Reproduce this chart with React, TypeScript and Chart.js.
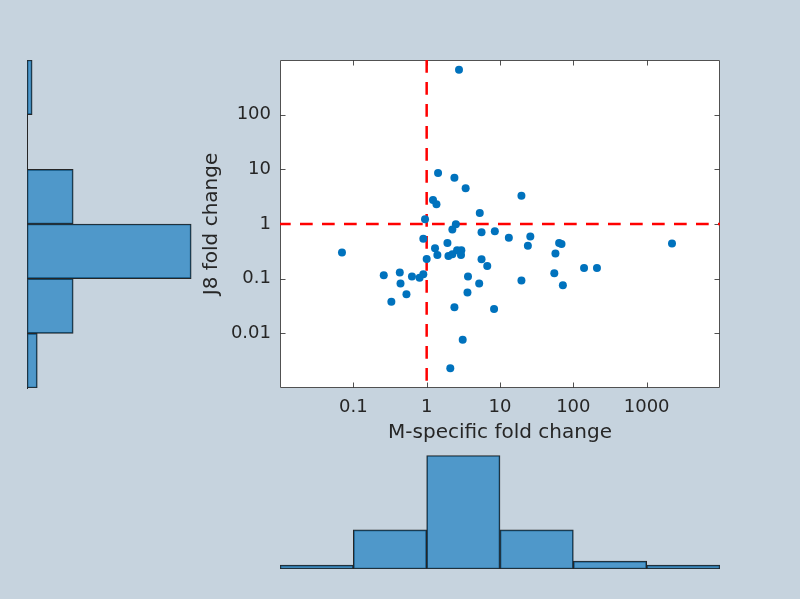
import React, { useEffect, useRef } from 'react';
import { Chart, registerables } from 'chart.js';

Chart.register(...registerables);

const BG = 'rgb(198,211,222)';
const TEXT = '#262626';
const EDGE = '#262626';
const FILL = 'rgba(0,114,189,0.6)';
const DOT = '#0072BD';
const FONT = "'DejaVu Sans', sans-serif";

// Scatter data: M-specific fold change (x) vs J8 fold change (y)
const mFold = [
  2.76, 1.43, 2.39, 3.4, 19.6, 1.22, 1.36, 5.3, 0.95, 2.5,
  2.24, 5.6, 8.5, 13.2, 25.9, 24, 64, 69, 57, 2215,
  0.9, 1.92, 0.07, 1.3, 1.4, 1.98, 2.24, 2.6, 2.97, 2.94,
  1.0, 5.6, 6.7, 0.26, 0.43, 0.63, 0.8, 0.9, 0.44, 0.53,
  0.33, 3.66, 5.2, 3.6, 2.39, 8.3, 19.6, 55, 72, 140,
  210, 3.1, 2.1,
];
const j8Fold = [
  660, 8.6, 7.0, 4.5, 3.3, 2.75, 2.3, 1.59, 1.22, 0.99,
  0.79, 0.71, 0.74, 0.56, 0.59, 0.4, 0.45, 0.43, 0.29, 0.44,
  0.54, 0.45, 0.3, 0.36, 0.27, 0.26, 0.28, 0.33, 0.33, 0.27,
  0.23, 0.226, 0.17, 0.115, 0.13, 0.11, 0.104, 0.12, 0.082, 0.052,
  0.038, 0.11, 0.082, 0.056, 0.03, 0.028, 0.093, 0.125, 0.076, 0.157,
  0.157, 0.0076, 0.0023,
];

const xRange = [0.01, 10000];
const yRange = [0.001, 1000];
const refX = 1;
const refY = 1;

const xTickValues = [0.1, 1, 10, 100, 1000];
const xTickLabels = ['0.1', '1', '10', '100', '1000'];
const yTickValues = [0.01, 0.1, 1, 10, 100];
const yTickLabels = ['0.01', '0.1', '1', '10', '100'];

// Histograms (one bin per decade)
const mBins = ['0.01-0.1', '0.1-1', '1-10', '10-100', '100-1000', '1000-10000'];
const mCounts = [1, 10, 29, 10, 2, 1];
const j8Bins = ['100-1000', '10-100', '1-10', '0.1-1', '0.01-0.1', '0.001-0.01'];
const j8Counts = [1, 0, 9, 32, 9, 2];

const framePlugin = {
  id: 'frameTicks',
  beforeDraw(chart: any) {
    const { ctx, chartArea: a } = chart;
    ctx.save();
    ctx.fillStyle = '#ffffff';
    ctx.fillRect(a.left, a.top, a.right - a.left, a.bottom - a.top);
    ctx.restore();
  },
  beforeDatasetsDraw(chart: any) {
    const { ctx, chartArea: a, scales } = chart;
    const L = Math.round(a.left) + 0.5;
    const R = Math.round(a.right) - 0.5;
    const T = Math.round(a.top) + 0.5;
    const B = Math.round(a.bottom) - 0.5;
    const tl = 5;
    ctx.save();
    ctx.strokeStyle = 'rgba(38,38,38,0.8)';
    ctx.lineWidth = 1;
    ctx.beginPath();
    ctx.rect(L, T, R - L, B - T);
    xTickValues.forEach((v) => {
      const px = Math.round(scales.x.getPixelForValue(v)) + 0.5;
      ctx.moveTo(px, B);
      ctx.lineTo(px, B - tl);
      ctx.moveTo(px, T);
      ctx.lineTo(px, T + tl);
    });
    yTickValues.forEach((v) => {
      const py = Math.round(scales.y.getPixelForValue(v)) + 0.5;
      ctx.moveTo(L, py);
      ctx.lineTo(L + tl, py);
      ctx.moveTo(R, py);
      ctx.lineTo(R - tl, py);
    });
    ctx.stroke();
    ctx.restore();
  },
};

export default function App() {
  const leftRef = useRef<HTMLCanvasElement>(null);
  const scatterRef = useRef<HTMLCanvasElement>(null);
  const bottomRef = useRef<HTMLCanvasElement>(null);

  useEffect(() => {
    const charts: Chart[] = [];

    const scatterData = mFold.map((x, i) => ({ x, y: j8Fold[i] }));

    charts.push(
      new Chart(scatterRef.current as HTMLCanvasElement, {
        type: 'scatter',
        data: {
          datasets: [
            {
              data: scatterData,
              pointRadius: 4,
              pointHoverRadius: 4,
              pointBackgroundColor: DOT,
              pointBorderWidth: 0,
              order: 0,
            } as any,
            {
              data: [
                { x: xRange[0], y: refY },
                { x: xRange[1], y: refY },
              ],
              showLine: true,
              borderColor: '#FF0000',
              borderWidth: 2.5,
              borderDash: [12.7, 9.3],
              borderDashOffset: 2,
              pointRadius: 0,
              fill: false,
              order: 1,
            } as any,
            {
              data: [
                { x: refX, y: yRange[1] },
                { x: refX, y: yRange[0] },
              ],
              showLine: true,
              borderColor: '#FF0000',
              borderWidth: 2.5,
              borderDash: [12.7, 9.3],
              borderDashOffset: 0,
              pointRadius: 0,
              fill: false,
              order: 1,
            } as any,
          ],
        },
        options: {
          responsive: false,
          animation: false,
          layout: { padding: { left: 0, top: 60, right: 80, bottom: 151 } },
          plugins: { legend: { display: false }, tooltip: { enabled: false } },
          scales: {
            x: {
              type: 'logarithmic',
              min: xRange[0],
              max: xRange[1],
              afterBuildTicks: (s: any) => {
                s.ticks = xTickValues.map((v) => ({ value: v }));
              },
              afterFit: (s: any) => {
                s.height = 60;
              },
              ticks: {
                autoSkip: false,
                maxRotation: 0,
                padding: 9,
                color: TEXT,
                font: { family: FONT, size: 18 },
                callback: (_v: any, i: number) => xTickLabels[i],
              },
              grid: { display: false, drawTicks: false },
              border: { display: false },
              title: {
                display: true,
                text: 'M-specific fold change',
                color: TEXT,
                font: { family: FONT, size: 20 },
                padding: { top: 0, bottom: 3 },
              },
            } as any,
            y: {
              type: 'logarithmic',
              min: yRange[0],
              max: yRange[1],
              afterBuildTicks: (s: any) => {
                s.ticks = yTickValues.map((v) => ({ value: v }));
              },
              afterFit: (s: any) => {
                s.width = 90;
              },
              ticks: {
                autoSkip: false,
                padding: 9,
                color: TEXT,
                font: { family: FONT, size: 18 },
                callback: (_v: any, i: number) => yTickLabels[i],
              },
              grid: { display: false, drawTicks: false },
              border: { display: false },
              title: {
                display: true,
                text: 'J8 fold change',
                color: TEXT,
                font: { family: FONT, size: 20 },
                padding: { top: 10, bottom: 0 },
              },
            } as any,
          },
        },
        plugins: [framePlugin],
      })
    );

    charts.push(
      new Chart(leftRef.current as HTMLCanvasElement, {
        type: 'bar',
        data: {
          labels: j8Bins,
          datasets: [
            {
              data: j8Counts,
              backgroundColor: FILL,
              borderColor: EDGE,
              borderWidth: 1,
              borderSkipped: false,
              barPercentage: 1,
              categoryPercentage: 1,
            } as any,
          ],
        },
        options: {
          indexAxis: 'y',
          responsive: false,
          animation: false,
          layout: { padding: { left: 27, right: 3.3, top: 60, bottom: 211 } },
          plugins: { legend: { display: false }, tooltip: { enabled: false } },
          scales: {
            x: { display: false, min: 0, max: 36 },
            y: {
              display: true,
              ticks: { display: false },
              grid: { display: false, drawTicks: false },
              border: { display: true, color: EDGE, width: 1 },
              afterFit: (s: any) => {
                s.width = 0;
              },
            } as any,
          },
        },
      })
    );

    charts.push(
      new Chart(bottomRef.current as HTMLCanvasElement, {
        type: 'bar',
        data: {
          labels: mBins,
          datasets: [
            {
              data: mCounts,
              backgroundColor: FILL,
              borderColor: EDGE,
              borderWidth: 1,
              borderSkipped: false,
              barPercentage: 1,
              categoryPercentage: 1,
            } as any,
          ],
        },
        options: {
          responsive: false,
          animation: false,
          layout: { padding: { left: 10, right: 10, top: 11.6, bottom: 11 } },
          plugins: { legend: { display: false }, tooltip: { enabled: false } },
          scales: {
            x: { display: false },
            y: { display: false, min: 0, max: 30 },
          },
        },
      })
    );

    return () => {
      charts.forEach((c) => c.destroy());
    };
  }, []);

  return (
    <div
      style={{
        position: 'fixed',
        left: 0,
        top: 0,
        width: 800,
        height: 599,
        background: BG,
        overflow: 'hidden',
      }}
    >
      <canvas
        ref={leftRef}
        width={215}
        height={599}
        style={{ position: 'absolute', left: 0, top: 0, width: 215, height: 599 }}
      />
      <canvas
        ref={scatterRef}
        width={610}
        height={599}
        style={{ position: 'absolute', left: 190, top: 0, width: 610, height: 599 }}
      />
      <canvas
        ref={bottomRef}
        width={460}
        height={140}
        style={{ position: 'absolute', left: 270, top: 440, width: 460, height: 140 }}
      />
    </div>
  );
}
